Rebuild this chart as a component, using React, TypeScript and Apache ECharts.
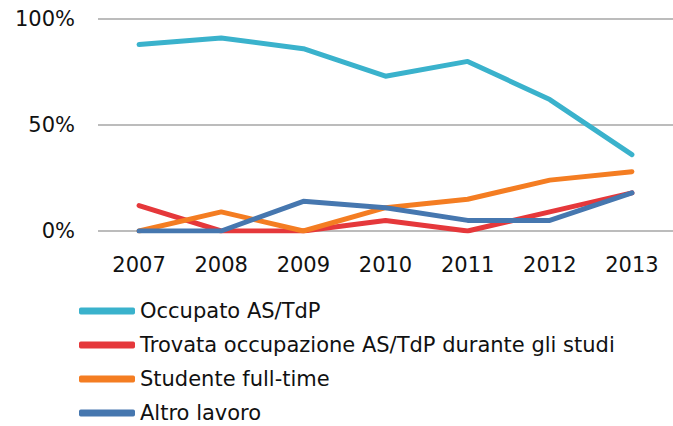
import React, { useEffect, useRef } from "react";
import * as echarts from "echarts";

const years = ["2007", "2008", "2009", "2010", "2011", "2012", "2013"];
const occupato = [88, 91, 86, 73, 80, 62, 36];
const trovata = [12, 0, 0, 5, 0, 9, 18];
const studente = [0, 9, 0, 11, 15, 24, 28];
const altro = [0, 0, 14, 11, 5, 5, 18];
const seriesNames = [
  "Occupato AS/TdP",
  "Trovata occupazione AS/TdP durante gli studi",
  "Studente full-time",
  "Altro lavoro",
];
const colors = ["#3AB2CC", "#E5383B", "#F47D22", "#4677AF"];

const FONT = "DejaVu Sans";

export default function App() {
  const ref = useRef<HTMLDivElement>(null);
  useEffect(() => {
    if (!ref.current) return;
    const chart = echarts.init(ref.current, undefined, { renderer: "svg" });
    const data = [occupato, trovata, studente, altro];
    chart.setOption({
      animation: false,
      color: colors,
      grid: { left: 98, top: 19, width: 583, height: 212, containLabel: false },
      xAxis: {
        type: "category",
        data: years,
        boundaryGap: true,
        axisLine: { show: false },
        axisTick: { show: false },
        axisLabel: { color: "#111", fontSize: 21, fontFamily: FONT, margin: 23 },
      },
      yAxis: {
        type: "value",
        min: 0,
        max: 100,
        interval: 50,
        axisLine: { show: false },
        axisTick: { show: false },
        axisLabel: {
          color: "#111",
          fontSize: 21,
          fontFamily: FONT,
          margin: 23,
          formatter: (v: number) => v + "%",
        },
        splitLine: { lineStyle: { color: "#A6A6A6", width: 1.5 } },
      },
      legend: {
        orient: "vertical",
        left: 74,
        top: 294,
        height: 132,
        itemWidth: 56,
        itemHeight: 7,
        itemGap: 10,
        icon: "roundRect",
        textStyle: { color: "#111", fontSize: 21, fontFamily: FONT, lineHeight: 24 },
        data: seriesNames,
      },
      series: seriesNames.map((name, i) => ({
        name,
        type: "line",
        data: data[i],
        symbol: "none",
        lineStyle: { width: 5, color: colors[i], cap: "round", join: "round" },
        itemStyle: { color: colors[i] },
      })),
    });
    return () => chart.dispose();
  }, []);
  return <div ref={ref} style={{ width: 673, height: 426, position: "absolute", left: 0, top: 0, background: "#fff" }} />;
}
